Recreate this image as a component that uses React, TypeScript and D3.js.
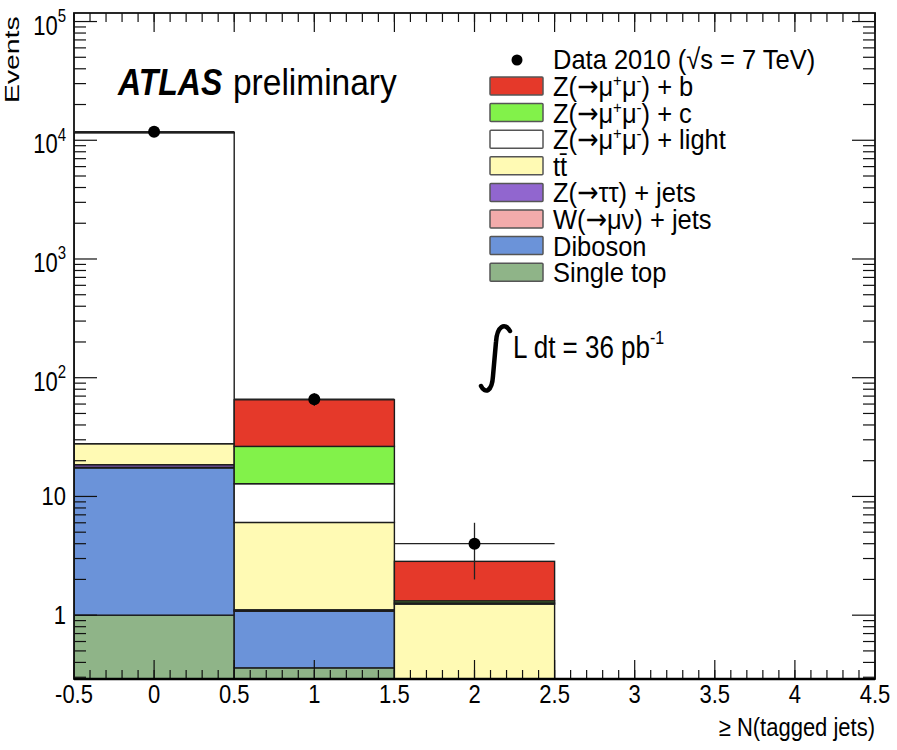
import React from "react";
import * as d3 from "d3";

// bins of >= N(tagged jets)
const binCenters = [0, 1, 2, 3, 4];
const dataCounts = [11800, 66, 4, 0, 0];

// MC samples, stacked bottom -> top
const singleTop = [1.0, 0.36, 0.12, 0, 0];
const diboson = [16.4, 0.72, 0.08, 0, 0];
const wMuNu = [0.2, 0.01, 0, 0, 0];
const zTauTau = [0.9, 0.02, 0.02, 0, 0];
const ttbar = [9.3, 4.93, 1.02, 0, 0];
const zLight = [11570, 6.76, 0.03, 0, 0];
const zCharm = [15, 13.6, 0.05, 0, 0];
const zBottom = [37, 38.8, 1.52, 0, 0];

const stackKeys = ["singleTop", "diboson", "wMuNu", "zTauTau", "ttbar", "zLight", "zCharm", "zBottom"];
const sampleColors = {
  zBottom: "#e5392a",
  zCharm: "#82f24a",
  zLight: "#ffffff",
  ttbar: "#fffab4",
  zTauTau: "#9166cf",
  wMuNu: "#f2abab",
  diboson: "#6b93d9",
  singleTop: "#8fb488",
};

const xTickLabels = ["-0.5", "0", "0.5", "1", "1.5", "2", "2.5", "3", "3.5", "4", "4.5"];
const yDecades = [1, 10, 100, 1000, 10000, 100000];

// legend text pieces: "^" marks a superscript, "→" gets the arrow font
const legendKeys = ["zBottom", "zCharm", "zLight", "ttbar", "zTauTau", "wMuNu", "diboson", "singleTop"];
const legendLabels = [
  ["Z(", "→", "μ", "^+", "μ", "^-", ") + b"],
  ["Z(", "→", "μ", "^+", "μ", "^-", ") + c"],
  ["Z(", "→", "μ", "^+", "μ", "^-", ") + light"],
  ["t", "t\u0304"],
  ["Z(", "→", "ττ) + jets"],
  ["W(", "→", "μν) + jets"],
  ["Diboson"],
  ["Single top"],
];

const W = 897;
const H = 750;
const margin = { left: 74, right: 22, top: 13, bottom: 71 };
const FONT = "'Liberation Sans', Arial, Helvetica, sans-serif";

function Txt({ x, y, size, sy = 1.15, anchor = "start", weight = "normal", italic = false, children }) {
  return (
    <text
      transform={`translate(${x},${y}) scale(1,${sy})`}
      fontSize={size}
      fontFamily={FONT}
      fontWeight={weight}
      fontStyle={italic ? "italic" : "normal"}
      textAnchor={anchor}
      fill="#000"
    >
      {children}
    </text>
  );
}

// turn pieces into tspans, raising the "^" ones
function pieces(parts, supSize = 15, up = 9) {
  let raised = false;
  return parts.map((p, i) => {
    const isSup = p.startsWith("^");
    let dy = 0;
    if (isSup && !raised) { dy = -up; raised = true; }
    else if (!isSup && raised) { dy = up; raised = false; }
    const txt = isSup ? p.slice(1) : p;
    return (
      <tspan
        key={i}
        dy={dy || undefined}
        fontSize={isSup ? supSize : undefined}
        fontFamily={p === "→" ? "'DejaVu Sans', sans-serif" : undefined}
      >
        {txt}
      </tspan>
    );
  });
}

export default function App() {
  const x = d3.scaleLinear().domain([-0.5, 4.5]).range([margin.left, W - margin.right]);
  const y = d3
    .scaleLog()
    .domain([0.29, 1.18e5])
    .range([H - margin.bottom, margin.top])
    .clamp(true);

  const rows = binCenters.map((c, i) => ({
    c,
    singleTop: singleTop[i],
    diboson: diboson[i],
    wMuNu: wMuNu[i],
    zTauTau: zTauTau[i],
    ttbar: ttbar[i],
    zLight: zLight[i],
    zCharm: zCharm[i],
    zBottom: zBottom[i],
  }));
  const series = d3.stack().keys(stackKeys)(rows);

  const x0 = margin.left, x1 = W - margin.right;
  const yTop = margin.top, yBot = H - margin.bottom;

  const xMajor = xTickLabels.map(Number);
  const xMinor = d3.range(0, 51).map((k) => -0.5 + k * 0.1);
  const yMinor = [];
  [0.1, 1, 10, 100, 1000, 10000, 100000].forEach((d) => {
    for (let m = 2; m <= 9; m++) {
      const v = d * m;
      if (v > 0.29 && v < 1.18e5) yMinor.push(v);
    }
  });

  const legX = 490, legRow0 = 86, legStep = 26.6;

  return (
    <svg width={W} height={H} style={{ position: "absolute", left: 0, top: 0, background: "#fff" }}>
      <defs>
        <clipPath id="plot">
          <rect x={x0} y={yTop} width={x1 - x0} height={yBot - yTop} />
        </clipPath>
      </defs>

      {/* stacked MC */}
      <g clipPath="url(#plot)">
        {series.map((s) =>
          s.map((d, i) => {
            const v = d[1] - d[0];
            if (v <= 0) return null;
            const lo = d[0] > 0 ? y(d[0]) : yBot;
            const hi = y(d[1]);
            return (
              <rect
                key={s.key + i}
                x={x(binCenters[i] - 0.5)}
                y={hi}
                width={x(binCenters[i] + 0.5) - x(binCenters[i] - 0.5)}
                height={Math.max(0, lo - hi)}
                fill={sampleColors[s.key]}
                stroke="#1c1c1c"
                strokeWidth={1.4}
              />
            );
          })
        )}
      </g>

      {/* ticks */}
      <g stroke="#111" strokeWidth={1.2}>
        {xMinor.map((t, i) => (
          <g key={"xm" + i}>
            <line x1={x(t)} x2={x(t)} y1={yBot} y2={yBot - 9} />
            <line x1={x(t)} x2={x(t)} y1={yTop} y2={yTop + 9} />
          </g>
        ))}
        {xMajor.map((t, i) => (
          <g key={"xM" + i}>
            <line x1={x(t)} x2={x(t)} y1={yBot} y2={yBot - 19} />
            <line x1={x(t)} x2={x(t)} y1={yTop} y2={yTop + 19} />
          </g>
        ))}
        {yMinor.map((t, i) => (
          <g key={"ym" + i}>
            <line x1={x0} x2={x0 + 12} y1={y(t)} y2={y(t)} />
            <line x1={x1} x2={x1 - 12} y1={y(t)} y2={y(t)} />
          </g>
        ))}
        {yDecades.map((t, i) => (
          <g key={"yM" + i}>
            <line x1={x0} x2={x0 + 23} y1={y(t)} y2={y(t)} />
            <line x1={x1} x2={x1 - 23} y1={y(t)} y2={y(t)} />
          </g>
        ))}
      </g>

      {/* frame */}
      <rect x={x0} y={yTop} width={x1 - x0} height={yBot - yTop} fill="none" stroke="#111" strokeWidth={1.8} />
      <line x1={x0} x2={x1} y1={yBot} y2={yBot} stroke="#000" strokeWidth={2.5} />

      {/* data */}
      <g clipPath="url(#plot)">
        {binCenters.map((c, i) => {
          const n = dataCounts[i];
          if (n <= 0) return null;
          const e = Math.sqrt(n);
          return (
            <g key={"d" + i}>
              <line x1={x(c - 0.5)} x2={x(c + 0.5)} y1={y(n)} y2={y(n)} stroke="#222" strokeWidth={1.3} />
              <line x1={x(c)} x2={x(c)} y1={y(n + e)} y2={y(Math.max(n - e, 0.3))} stroke="#222" strokeWidth={1.3} />
              <circle cx={x(c)} cy={y(n)} r={6} fill="#000" />
            </g>
          );
        })}
      </g>

      {/* x tick labels */}
      {xTickLabels.map((l, i) => (
        <Txt key={"xl" + i} x={x(xMajor[i])} y={703} size={22} sy={1.18} anchor="middle">{l}</Txt>
      ))}
      <Txt x={x1} y={736} size={22} sy={1.18} anchor="end">≥ N(tagged jets)</Txt>

      {/* y tick labels */}
      {yDecades.map((v, i) => {
        const p = Math.round(Math.log10(v));
        if (p <= 1) {
          return (
            <Txt key={"yl" + i} x={66} y={y(v) + 9} size={22} sy={1.2} anchor="end">{String(v)}</Txt>
          );
        }
        return (
          <Txt key={"yl" + i} x={66} y={y(v) + 13} size={22} sy={1.25} anchor="end">
            {pieces(["10", "^" + p], 15, 10)}
          </Txt>
        );
      })}
      <text
        transform={`translate(19,103) rotate(-90) scale(1.35,1)`}
        fontSize={21}
        fontFamily={FONT}
        textAnchor="start"
      >
        Events
      </text>

      {/* ATLAS label */}
      <Txt x={118} y={95} size={32} sy={1.15} weight="bold" italic>ATLAS</Txt>
      <Txt x={233} y={95} size={33.5} sy={1.1}>preliminary</Txt>

      {/* legend */}
      <circle cx={517} cy={60} r={5.5} fill="#000" />
      <Txt x={553} y={69} size={25.5} sy={1.12}>Data 2010 (√s = 7 TeV)</Txt>
      {legendKeys.map((k, i) => {
        const cy = legRow0 + i * legStep;
        return (
          <g key={"lg" + i}>
            <rect x={legX} y={cy - 9} width={53} height={18} fill={sampleColors[k]} stroke="#555" strokeWidth={1.5} rx={1} />
            <Txt x={553} y={cy + 10} size={25.5} sy={1.12}>{pieces(legendLabels[i])}</Txt>
          </g>
        );
      })}

      {/* luminosity */}
      <path
        d="M510,331 C505,322 497,326 496,342 L493,376 C492,392 485,394 481,386"
        fill="none"
        stroke="#000"
        strokeWidth={4.5}
        strokeLinecap="round"
      />
      <Txt x={513} y={358} size={26} sy={1.2}>
        {pieces(["L dt = 36 pb", "^-1"], 16, 12)}
      </Txt>
    </svg>
  );
}
